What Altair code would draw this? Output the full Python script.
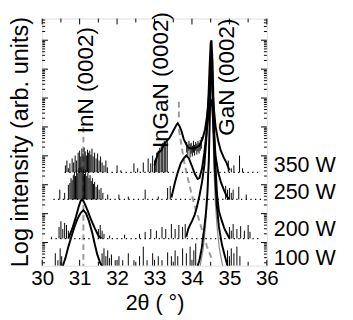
import altair as alt
import pandas as pd
import numpy as np

FONT = "Liberation Sans"
W, H = 230, 253

# ---------------- data: 2theta (deg) and log10 intensity (arb. units) ----------------
x_tick_labels = [30, 31, 32, 33, 34, 35, 36]
trace_labels = ["350 W", "250 W", "200 W", "100 W"]
peak_labels = ["InN (0002)", "InGaN (0002)", "GaN (0002)"]

# 350 W
w350_base = 3.43
w350_range = [30.60, 35.85]
w350_peak_x = [33.00, 33.05, 33.10, 33.18, 33.26, 33.33, 33.40, 33.50, 33.58, 33.62, 33.67, 33.72, 33.78,
               33.84, 33.90, 34.00, 34.10, 34.20, 34.28, 34.35, 34.40, 34.45, 34.49, 34.51, 34.54, 34.58,
               34.63, 34.70, 34.77, 34.85, 34.93, 35.00]
w350_peak_y = [3.67, 3.91, 4.11, 4.18, 4.42, 4.52, 4.62, 4.86, 5.06, 5.13, 5.02, 4.86, 4.58,
               4.42, 4.28, 4.25, 4.28, 4.35, 4.58, 4.92, 5.36, 6.04, 6.82, 6.99, 6.55, 5.70,
               5.02, 4.52, 4.18, 3.94, 3.74, 3.50]
w350_noise_x = [30.62, 30.66, 30.70, 30.74, 30.80, 30.84, 30.88, 30.92, 30.96, 31.00, 31.03, 31.06, 31.09,
                31.12, 31.15, 31.18, 31.21, 31.24, 31.27, 31.30, 31.33, 31.36, 31.40, 31.44, 31.48, 31.52,
                31.56, 31.60, 31.65, 31.70, 31.74,
                32.00, 32.10, 32.45, 32.55, 32.70, 32.83, 32.90, 32.95, 33.00,
                33.02, 33.06, 33.10, 33.14, 33.18, 33.22, 33.26, 33.30, 33.34,
                34.97, 35.05, 35.12, 35.27, 35.35]
w350_noise_y = [3.67, 3.84, 3.57, 3.74, 3.91, 3.77, 4.01, 3.84, 4.11, 4.18, 3.98, 4.25, 4.08,
                4.28, 4.15, 4.01, 4.21, 4.11, 4.18, 4.04, 4.25, 3.98, 4.11, 3.91, 4.08, 3.84,
                3.98, 3.77, 3.67, 3.84, 3.60,
                3.67, 3.50, 3.74, 3.57, 3.77, 3.91, 3.74, 4.01, 3.84,
                3.91, 4.11, 4.18, 4.28, 4.35, 4.45, 4.52, 4.48, 4.58,
                3.84, 3.57, 3.67, 4.01, 3.57]
w350_band_x = [33.86, 33.89, 33.92, 33.95, 33.98, 34.01, 34.04, 34.07, 34.10, 34.13, 34.16, 34.19, 34.22, 34.25]
w350_band_lo = [4.11, 4.01, 4.18, 3.94, 4.08, 3.98, 4.11, 4.01, 4.18, 4.04, 4.15, 4.08, 4.18, 4.25]
w350_band_hi = [4.48, 4.38, 4.52, 4.42, 4.45, 4.35, 4.52, 4.38, 4.48, 4.42, 4.52, 4.45, 4.55, 4.65]

# 250 W
w250_base = 2.49
w250_range = [30.30, 35.85]
w250_peak_x = [33.45, 33.50, 33.55, 33.62, 33.70, 33.78, 33.85, 33.92, 34.00, 34.08, 34.15, 34.20, 34.27,
               34.33, 34.40, 34.45, 34.50, 34.54, 34.58, 34.63, 34.70, 34.77, 34.85, 34.92, 35.00]
w250_peak_y = [2.56, 2.83, 3.10, 3.43, 3.74, 3.91, 4.01, 3.91, 3.64, 3.37, 3.20, 3.23, 3.57,
               4.11, 4.92, 5.53, 5.97, 5.70, 4.86, 4.01, 3.43, 3.10, 2.83, 2.62, 2.49]
w250_noise_x = [30.47, 30.60, 30.70, 30.74, 30.77, 30.80, 30.83, 30.86, 30.89, 30.92, 30.95, 30.98, 31.01,
                31.04, 31.07, 31.10, 31.13, 31.16, 31.19, 31.22, 31.25, 31.28, 31.31, 31.34, 31.37, 31.40,
                31.44, 31.48, 31.52, 31.57, 31.62, 31.75,
                32.05, 32.30, 32.75, 33.10, 33.35, 33.42,
                34.90, 34.95, 35.00, 35.05, 35.10, 35.25, 35.45]
w250_noise_y = [2.83, 2.72, 3.00, 3.06, 3.23, 3.16, 3.33, 3.43, 3.30, 3.50, 3.40, 3.57, 3.43,
                3.60, 3.47, 3.54, 3.37, 3.50, 3.30, 3.40, 3.23, 3.33, 3.13, 3.23, 3.03, 3.10,
                2.93, 3.00, 2.83, 2.89, 2.72, 2.66,
                2.66, 2.59, 2.83, 2.59, 2.89, 2.96,
                2.96, 2.83, 2.89, 2.72, 2.83, 2.93, 2.66]

# 200 W
w200_base = 1.14
w200_range = [30.23, 35.85]
w200_inn_x = [30.70, 30.80, 30.90, 30.97, 31.03, 31.07, 31.12, 31.20, 31.30, 31.40, 31.50, 31.58]
w200_inn_y = [1.14, 1.47, 1.88, 2.22, 2.45, 2.49, 2.39, 2.15, 1.81, 1.51, 1.24, 1.14]
w200_peak_x = [33.85, 33.90, 33.95, 34.00, 34.07, 34.13, 34.20, 34.27, 34.33, 34.38, 34.43, 34.47, 34.50,
               34.52, 34.55, 34.58, 34.62, 34.67, 34.72, 34.80, 34.87, 34.95, 35.00]
w200_peak_y = [1.20, 1.47, 1.61, 1.74, 1.95, 2.22, 2.62, 3.10, 3.67, 4.52, 5.70, 7.05, 7.90,
               8.00, 7.22, 5.53, 3.84, 2.66, 2.08, 1.74, 1.47, 1.27, 1.14]
w200_noise_x = [30.25, 30.45, 30.50, 30.55, 30.60, 30.65, 30.70, 31.50, 31.55, 31.60, 31.65, 31.80,
                32.20, 32.60, 32.75, 32.90, 33.05, 33.20, 33.30, 33.45, 33.55, 33.65, 33.75, 33.82,
                35.00, 35.05, 35.10, 35.20, 35.30, 35.40, 35.50, 35.55]
w200_noise_y = [1.20, 1.54, 1.74, 1.47, 1.68, 1.61, 1.41, 1.47, 1.61, 1.41, 1.30, 1.24,
                1.27, 1.30, 1.37, 1.47, 1.41, 1.54, 1.47, 1.64, 1.47, 1.61, 1.54, 1.64,
                1.54, 1.41, 1.64, 1.47, 1.57, 1.41, 1.61, 1.37]

# 100 W
w100_base = 0.20
w100_inn_x = [30.55, 30.62, 30.70, 30.78, 30.86, 30.94, 31.02, 31.10, 31.17, 31.25, 31.33, 31.40, 31.47,
              31.55, 31.60]
w100_inn_y = [0.19, 0.46, 0.86, 1.20, 1.54, 1.81, 2.01, 2.12, 2.01, 1.74, 1.37, 0.97, 0.59, 0.29, 0.19]
w100_peak_x = [34.15, 34.20, 34.26, 34.32, 34.37, 34.41, 34.45, 34.48, 34.50, 34.52, 34.54, 34.57, 34.61,
               34.66, 34.72, 34.80, 34.88, 34.95]
w100_peak_y = [0.19, 0.39, 0.80, 1.41, 1.98, 2.66, 3.84, 5.53, 6.88, 7.49, 6.88, 5.19, 3.50,
               2.32, 1.54, 0.93, 0.53, 0.19]
w100_noise_x = [30.35, 30.42, 30.48, 30.52, 31.60, 31.65, 31.70, 31.75, 31.80, 31.85, 31.95, 32.05, 32.15,
                32.30, 32.45, 32.60, 32.70, 32.80, 32.95, 33.10, 33.20, 33.35, 33.45, 33.55, 33.62, 33.75,
                33.85, 33.95, 34.05, 34.10, 34.95, 35.00, 35.05, 35.12, 35.20, 35.28]
w100_noise_y = [0.63, 0.39, 0.80, 0.53, 0.63, 0.80, 0.53, 0.73, 0.46, 0.59, 0.39, 0.53, 0.39,
                0.63, 0.39, 0.53, 0.86, 0.39, 0.63, 0.53, 0.39, 0.66, 0.53, 0.73, 0.53, 0.80,
                0.63, 0.86, 0.73, 0.97, 0.73, 0.53, 0.80, 0.63, 0.86, 0.53]

# fitted components (gray)
gan_fit_x = [34.22, 34.30, 34.36, 34.41, 34.45, 34.48, 34.50, 34.51, 34.53, 34.55, 34.58, 34.62, 34.67,
             34.73, 34.82]
gan_fit_y = [0.19, 0.80, 1.54, 2.49, 3.84, 5.53, 7.22, 7.73, 7.22, 5.53, 3.84, 2.49, 1.54, 0.80, 0.19]
ingan_fit_x = [33.65, 33.72, 33.80, 33.90, 34.00, 34.10, 34.20, 34.30, 34.40, 34.50, 34.55]
ingan_fit_y = [4.92, 4.35, 3.74, 3.16, 2.62, 2.15, 1.74, 1.30, 0.86, 0.53, 0.39]
marker_x = [31.10, 33.65]
marker_top = [5.00, 5.87]
marker_bottom = [0.20, 5.19]

# ---------------- tables ----------------
env_rows = []
for seg, xs, ys in [("350", w350_peak_x, w350_peak_y), ("250", w250_peak_x, w250_peak_y),
                    ("200i", w200_inn_x, w200_inn_y), ("200", w200_peak_x, w200_peak_y),
                    ("100i", w100_inn_x, w100_inn_y), ("100", w100_peak_x, w100_peak_y)]:
    for i, (a, b) in enumerate(zip(xs, ys)):
        env_rows.append({"seg": seg, "i": i, "x": a, "y": b})
env = pd.DataFrame(env_rows)

stick_rows = []
for xs, ys, base in [(w350_noise_x, w350_noise_y, w350_base), (w250_noise_x, w250_noise_y, w250_base),
                     (w200_noise_x, w200_noise_y, w200_base), (w100_noise_x, w100_noise_y, w100_base)]:
    for a, b in zip(xs, ys):
        stick_rows.append({"x": a, "lo": base, "hi": b})
for a, lo, hi in zip(w350_band_x, w350_band_lo, w350_band_hi):
    stick_rows.append({"x": a, "lo": lo, "hi": hi})
sticks = pd.DataFrame(stick_rows)

bases = pd.DataFrame({
    "x0": [w350_range[0], w250_range[0], w200_range[0]],
    "x1": [w350_range[1], w250_range[1], w200_range[1]],
    "y": [w350_base, w250_base, w200_base],
})

fits = pd.DataFrame(
    [{"seg": "gan", "i": i, "x": a, "y": b} for i, (a, b) in enumerate(zip(gan_fit_x, gan_fit_y))])
ingan = pd.DataFrame(
    [{"seg": "ingan", "i": i, "x": a, "y": b} for i, (a, b) in enumerate(zip(ingan_fit_x, ingan_fit_y))])
markers = pd.DataFrame({"x": marker_x, "y": marker_top, "y2": marker_bottom})

# tick positions
y_major = list(range(1, 9))
y_minor = [n + np.log10(k) for n in range(0, 9) for k in range(2, 10) if 0.2 < n + np.log10(k) < 8.75]
x_major = [30, 31, 32, 33, 34, 35, 36]
x_minor = [30.5, 31.5, 32.5, 33.5, 34.5, 35.5]

# ---------------- encodings ----------------
x_scale = alt.Scale(domain=[30, 36], nice=False, zero=False)
y_scale = alt.Scale(domain=[0.2, 8.75], nice=False, zero=False)
x_axis = alt.Axis(values=x_tick_labels, format="d", labelFont=FONT, labelFontSize=21, labelColor="black",
                  labelPadding=2, labelFlush=False, ticks=False, domain=False, grid=False,
                  title="2θ ( °)", titleFont=FONT, titleFontSize=22, titleFontWeight="normal",
                  titleColor="black", titleY=45, titleBaseline="alphabetic")
y_axis = alt.Axis(labels=False, ticks=False, domain=False, grid=False,
                  title="Log intensity (arb. units)", titleFont=FONT, titleFontSize=24,
                  titleFontWeight="normal", titleColor="black", titleX=-15, titleY=126,
                  titleAngle=270, titleBaseline="alphabetic", titleAlign="center")


def X(f):
    return alt.X(f, type="quantitative", scale=x_scale, axis=x_axis)


def Y(f):
    return alt.Y(f, type="quantitative", scale=y_scale, axis=y_axis)


layers = []
# gray dashed markers
layers.append(alt.Chart(markers).mark_rule(color="#9a9a9a", strokeWidth=2, strokeDash=[6, 4]).encode(
    x=X("x"), y=Y("y"), y2="y2"))
layers.append(alt.Chart(ingan).mark_line(color="#9a9a9a", strokeWidth=2, strokeDash=[6, 4], clip=True).encode(
    x=X("x"), y=Y("y"), order="i:Q"))
layers.append(alt.Chart(fits).mark_line(color="#8a8a8a", strokeWidth=1.2, clip=True).encode(
    x=X("x"), y=Y("y"), order="i:Q"))
# dotted baselines
layers.append(alt.Chart(bases).mark_rule(color="black", strokeWidth=1.3, strokeDash=[1.3, 3.5]).encode(
    x=X("x0"), x2="x1", y=Y("y")))
# noise sticks
layers.append(alt.Chart(sticks).mark_rule(color="black", strokeWidth=1, clip=True).encode(
    x=X("x"), y=Y("lo"), y2="hi"))
# envelopes
layers.append(alt.Chart(env).mark_line(color="black", strokeWidth=2, clip=True).encode(
    x=X("x"), y=Y("y"), detail="seg:N", order="i:Q"))

# inward ticks
ym = pd.DataFrame({"v": y_major})
yn = pd.DataFrame({"v": y_minor})
xm = pd.DataFrame({"v": x_major})
xn = pd.DataFrame({"v": x_minor})
for df, ln in [(ym, 6), (yn, 3)]:
    layers.append(alt.Chart(df).mark_rule(color="black", strokeWidth=1).encode(
        y=Y("v"), x=alt.value(0), x2=alt.value(ln)))
    layers.append(alt.Chart(df).mark_rule(color="black", strokeWidth=1).encode(
        y=Y("v"), x=alt.value(W), x2=alt.value(W - ln)))
for df, ln in [(xm, 6), (xn, 4)]:
    layers.append(alt.Chart(df).mark_rule(color="black", strokeWidth=1).encode(
        x=X("v"), y=alt.value(H), y2=alt.value(H - ln)))
    layers.append(alt.Chart(df).mark_rule(color="black", strokeWidth=1).encode(
        x=X("v"), y=alt.value(0), y2=alt.value(ln)))

# peak labels (rotated)
label_pos = [(45, 63), (122, 63), (189, 60)]
for txt, (px, py) in zip(peak_labels, label_pos):
    layers.append(alt.Chart(pd.DataFrame({"t": [txt]})).mark_text(
        angle=270, font=FONT, fontSize=23, align="center", baseline="middle", color="black").encode(
        text="t:N", x=alt.value(px), y=alt.value(py)))

# power labels on the right
power_y = [157, 185, 223, 252]
for txt, py in zip(trace_labels, power_y):
    layers.append(alt.Chart(pd.DataFrame({"t": [txt]})).mark_text(
        font=FONT, fontSize=22, align="left", baseline="alphabetic", color="black").encode(
        text="t:N", x=alt.value(237), y=alt.value(py)))

chart = alt.layer(*layers).properties(
    width=W, height=H,
    autosize=alt.AutoSizeParams(type="none"),
    padding={"left": 35, "top": 7, "right": 80, "bottom": 60},
).configure_view(stroke="black", strokeWidth=1).configure(font=FONT)

chart.save("out.html", embed_options={"renderer": "svg", "actions": False})
